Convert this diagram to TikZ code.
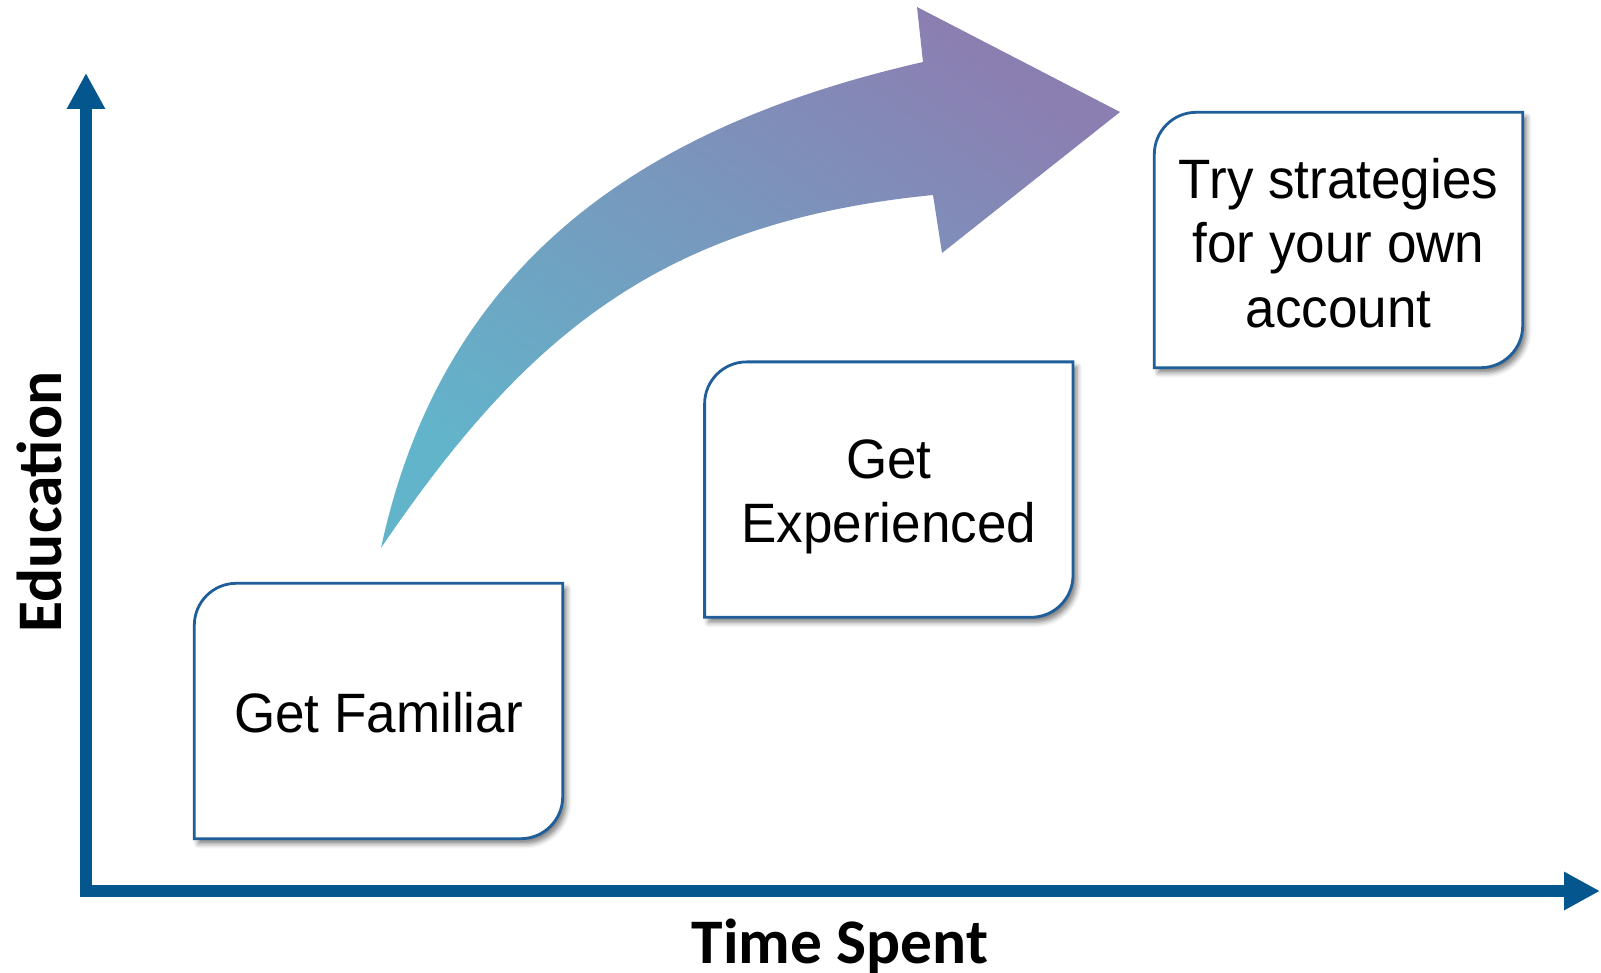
\documentclass[tikz,border=0pt]{standalone}
\usepackage{fontspec}
\setmainfont{Liberation Sans}
\newfontfamily\boxfont[FakeStretch=0.955]{Liberation Sans}
\newfontfamily\axisfont{Carlito}
\usetikzlibrary{arrows.meta,shadows.blur}
\definecolor{axisblue}{RGB}{4,86,142}
\definecolor{boxblue}{RGB}{31,94,152}
\definecolor{arrteal}{RGB}{98,180,202}
\definecolor{arrpurple}{RGB}{139,127,178}
\begin{document}
\begin{tikzpicture}[x=1pt,y=-1pt,
  axisline/.style={line width=12pt, draw=axisblue, line join=miter,
    {Triangle[width=36pt,length=36pt]}-{Triangle[width=36pt,length=36pt]}},
  stagebox/.style={minimum width=368pt, minimum height=255pt, inner sep=0pt,
    align=center, font=\boxfont\fontsize{55.5}{64.3}\selectfont},
  stageshape/.style={draw=boxblue, line width=2.8pt, fill=white,
    blur shadow={shadow xshift=4pt, shadow yshift=-5pt, shadow blur radius=5pt, shadow opacity=50}},
  axislabel/.style={font=\axisfont\bfseries\fontsize{63.5}{70}\selectfont, inner sep=0pt},
  bigarrow/.style={top color=arrpurple, bottom color=arrteal, shading angle=-35}
]
\useasboundingbox (0,0) rectangle (1601,973);

% curved arrow
\coordinate (tail) at (381,548);
\coordinate (osh) at (923,62);
\coordinate (bt) at (917,7);
\coordinate (tip) at (1120,112);
\coordinate (ib) at (942,253);
\coordinate (ish) at (933,195);
\path[bigarrow] (tail) .. controls (445,250) and (660,122) .. (osh)
  -- (bt) -- (tip) -- (ib) -- (ish)
  .. controls (660,222) and (525,336) .. (tail) -- cycle;

% boxes
\newcommand\stageoutline[1]{%
  \path[stageshape] ([yshift=-42pt]#1.north west) arc[start angle=180,end angle=90,radius=42pt]
    -- (#1.north east) -- ([yshift=42pt]#1.south east) arc[start angle=0,end angle=-90,radius=42pt]
    -- (#1.south west) -- cycle;}
\node[stagebox] (b1) at (378.5,711) {};
\stageoutline{b1}
\node[stagebox, yshift=-1.5pt] at (b1.center) (t1) {Get Familiar};
\node[stagebox] (b2) at (888.8,489.6) {};
\stageoutline{b2}
\node[stagebox, yshift=-7pt] at (b2.center) (t2) {Get\\Experienced};
\node[stagebox] (b3) at (1338.5,240) {};
\stageoutline{b3}
\node[stagebox, yshift=-3pt] at (b3.center) (t3) {Try strategies\\for your own\\account};

% axes
\coordinate (ytip) at (86,73);
\coordinate (origin) at (86,891);
\coordinate (xtip) at (1600,891);
\draw[axisline] (ytip) -- (origin) -- (xtip);

\node[axislabel, anchor=base] (time) at (840,963) {Time Spent};
\node[axislabel, anchor=base, rotate=90] (edu) at (61,502) {Education};
\end{tikzpicture}
\end{document}
